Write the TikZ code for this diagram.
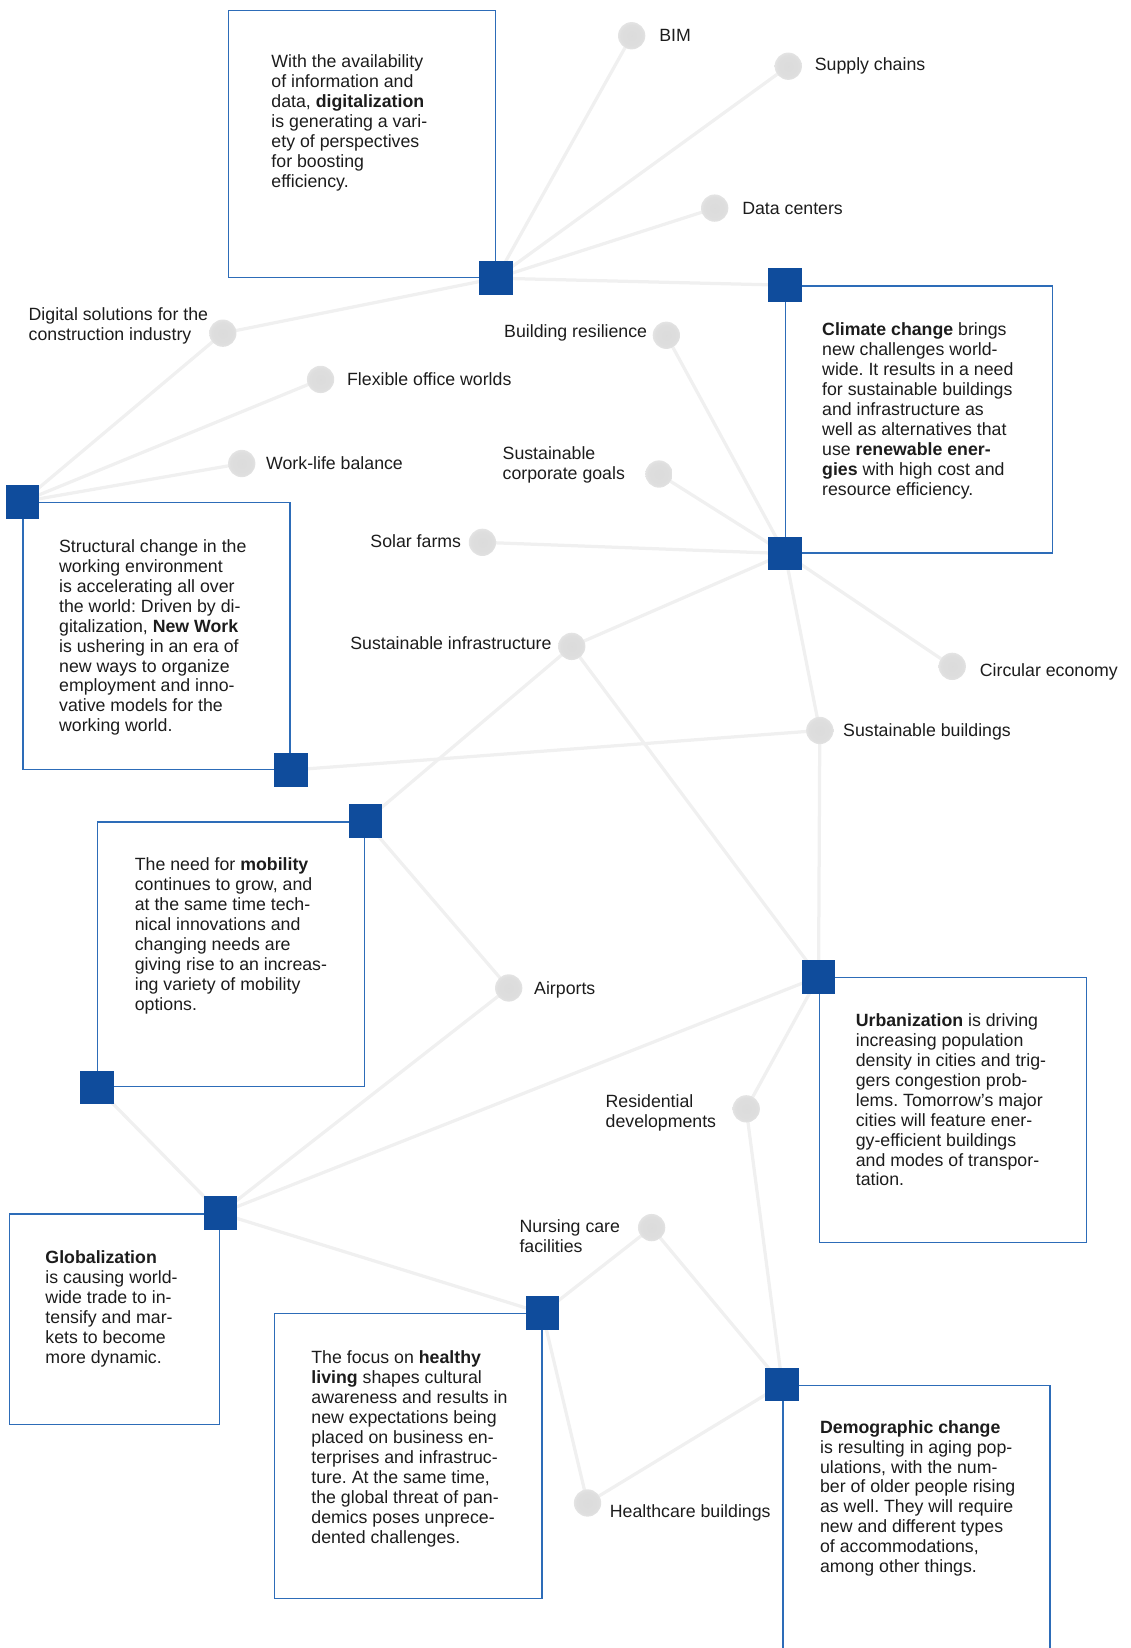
\documentclass[tikz,border=0pt]{standalone}
\usepackage{fontspec}
\setmainfont{Liberation Sans}
\usepackage{xcolor}
\usepackage{tikz}
\usetikzlibrary{positioning,backgrounds}
\frenchspacing

\definecolor{hubblue}{RGB}{15,76,156}
\definecolor{frameblue}{RGB}{45,108,184}
\definecolor{linkgray}{RGB}{240,240,240}
\definecolor{inkgray}{RGB}{28,28,28}

% soft grey topic dots
\pgfdeclareradialshading{softdot}{\pgfpoint{0bp}{0bp}}{color(0bp)=(black!14); color(20bp)=(black!13); color(50bp)=(white)}

\tikzset{
  hub/.style={rectangle, fill=hubblue, minimum size=0.8cm, inner sep=0pt},
  trendbox/.style={rectangle, draw=frameblue, line width=0.9pt, minimum width=6.35cm, minimum height=6.35cm, inner sep=0pt},
  blurb/.style={anchor=north west, align=left, inner sep=0pt, text=inkgray, font=\fontsize{12pt}{13.5pt}\selectfont},
  topic/.style={circle, minimum size=0.65cm, inner sep=0pt, shading=softdot},
  topiclabel/.style={inner sep=0pt, align=left, text=inkgray, font=\fontsize{12pt}{13.5pt}\selectfont},
  link/.style={line width=2.2pt, draw=linkgray}
}

\begin{document}
\begin{tikzpicture}[x=0.025cm, y=-0.025cm]
    \useasboundingbox (0,0) rectangle (1076,1568);

    % Digitalization
    \node[trendbox] (digbox) at (344.5,137) {};
    \node[hub] (digsq) at (digbox.south east) {};
    \node[blurb] (digtxt) at (258,52) {With the availability\\of information and\\data, \textbf{digitalization}\\is generating a vari-\\ety of perspectives\\for boosting\\efficiency.};

    % Climate change
    \node[trendbox] (climbox) at (874.5,399) {};
    \node[hub] (climtop) at (climbox.north west) {};
    \node[hub] (climbot) at (climbox.south west) {};
    \node[blurb] (climtxt) at (782,307) {\textbf{Climate change} brings\\new challenges world-\\wide. It results in a need\\for sustainable buildings\\and infrastructure as\\well as alternatives that\\use \textbf{renewable ener-}\\\textbf{gies} with high cost and\\resource efficiency.};

    % New Work
    \node[trendbox] (workbox) at (149,605) {};
    \node[hub] (worktop) at (workbox.north west) {};
    \node[hub] (workbot) at (workbox.south east) {};
    \node[blurb] (worktxt) at (56,513) {Structural change in the\\working environment\\is accelerating all over\\the world: Driven by di-\\gitalization, \textbf{New Work}\\is ushering in an era of\\new ways to organize\\employment and inno-\\vative models for the\\working world.};

    % Mobility
    \node[trendbox, minimum height=6.3cm] (mobbox) at (220,908) {};
    \node[hub] (mobtop) at (mobbox.north east) {};
    \node[hub] (mobbot) at (mobbox.south west) {};
    \node[blurb] (mobtxt) at (128,816) {The need for \textbf{mobility}\\continues to grow, and\\at the same time tech-\\nical innovations and\\changing needs are\\giving rise to an increas-\\ing variety of mobility\\options.};

    % Urbanization
    \node[trendbox, minimum height=6.3cm] (urbbox) at (906.5,1056) {};
    \node[hub] (urbsq) at (urbbox.north west) {};
    \node[blurb] (urbtxt) at (814,964) {\textbf{Urbanization} is driving\\increasing population\\density in cities and trig-\\gers congestion prob-\\lems. Tomorrow’s major\\cities will feature ener-\\gy-efficient buildings\\and modes of transpor-\\tation.};

    % Globalization
    \node[trendbox, minimum width=5cm, minimum height=5cm] (globbox) at (109,1255) {};
    \node[hub] (globsq) at (globbox.north east) {};
    \node[blurb] (globtxt) at (43,1190) {\textbf{Globalization}\\is causing world-\\wide trade to in-\\tensify and mar-\\kets to become\\more dynamic.};

    % Healthy living
    \node[trendbox, minimum height=6.775cm] (healthbox) at (388.5,1385.5) {};
    \node[hub] (healthsq) at (healthbox.north east) {};
    \node[blurb] (healthtxt) at (296,1285) {The focus on \textbf{healthy}\\\textbf{living} shapes cultural\\awareness and results in\\new expectations being\\placed on business en-\\terprises and infrastruc-\\ture. At the same time,\\the global threat of pan-\\demics poses unprece-\\dented challenges.};

    % Demographic change
    \node[trendbox, minimum height=6.8cm] (dembox) at (872,1454) {};
    \node[hub] (demsq) at (dembox.north west) {};
    \node[blurb] (demtxt) at (780,1351) {\textbf{Demographic change}\\is resulting in aging pop-\\ulations, with the num-\\ber of older people rising\\as well. They will require\\new and different types\\of accommodations,\\among other things.};

    % Topics
    \node[topic] (bim) at (601,34) {};
    \node[topiclabel, anchor=west] (bimlbl) at (627,34) {BIM};
    \node[topic] (supply) at (750,63) {};
    \node[topiclabel, anchor=west] (supplylbl) at (775,63) {Supply chains};
    \node[topic] (datac) at (680,198) {};
    \node[topiclabel, anchor=west] (dataclbl) at (706,198) {Data centers};
    \node[topic] (digsol) at (212,317) {};
    \node[topiclabel, anchor=north west] (digsollbl) at (27,292) {Digital solutions for the\\construction industry};
    \node[topic] (resil) at (634,319) {};
    \node[topiclabel, anchor=east] (resillbl) at (616,317) {Building resilience};
    \node[topic] (flexoff) at (305,361) {};
    \node[topiclabel, anchor=west] (flexofflbl) at (330,361) {Flexible office worlds};
    \node[topic] (worklife) at (230,441) {};
    \node[topiclabel, anchor=west] (worklifelbl) at (253,441) {Work-life balance};
    \node[topic] (corpgoals) at (627,451) {};
    \node[topiclabel, anchor=north west] (corpgoalslbl) at (478,425) {Sustainable\\corporate goals};
    \node[topic] (solar) at (459,516) {};
    \node[topiclabel, anchor=east] (solarlbl) at (439,515) {Solar farms};
    \node[topic] (susinfra) at (544,615) {};
    \node[topiclabel, anchor=east] (susinfralbl) at (525,612) {Sustainable infrastructure};
    \node[topic] (circular) at (906,634) {};
    \node[topiclabel, anchor=west] (circularlbl) at (932,639) {Circular economy};
    \node[topic] (susbuild) at (780,695) {};
    \node[topiclabel, anchor=west] (susbuildlbl) at (802,696) {Sustainable buildings};
    \node[topic] (airports) at (484,940) {};
    \node[topiclabel, anchor=west] (airportslbl) at (508,942) {Airports};
    \node[topic] (resid) at (710,1055) {};
    \node[topiclabel, anchor=north west] (residlbl) at (576,1041) {Residential\\developments};
    \node[topic] (nursing) at (620,1168) {};
    \node[topiclabel, anchor=north west] (nursinglbl) at (494,1160) {Nursing care\\facilities};
    \node[topic] (healthc) at (559,1430) {};
    \node[topiclabel, anchor=west] (healthclbl) at (580,1439) {Healthcare buildings};

    % Links
    \begin{scope}[on background layer]
        \draw[link] (digsq.center) -- (bim.center);
        \draw[link] (digsq.center) -- (supply.center);
        \draw[link] (digsq.center) -- (datac.center);
        \draw[link] (digsq.center) -- (climtop.center);
        \draw[link] (digsq.center) -- (digsol.center);
        \draw[link] (digsol.center) -- (worktop.center);
        \draw[link] (flexoff.center) -- (worktop.center);
        \draw[link] (worklife.center) -- (worktop.center);
        \draw[link] (resil.center) -- (climbot.center);
        \draw[link] (corpgoals.center) -- (climbot.center);
        \draw[link] (solar.center) -- (climbot.center);
        \draw[link] (susinfra.center) -- (climbot.center);
        \draw[link] (circular.center) -- (climbot.center);
        \draw[link] (climbot.center) -- (susbuild.center);
        \draw[link] (susbuild.center) -- (urbsq.center);
        \draw[link] (workbot.center) -- (susbuild.center);
        \draw[link] (susinfra.center) -- (urbsq.center);
        \draw[link] (susinfra.center) -- (mobtop.center);
        \draw[link] (mobtop.center) -- (airports.center);
        \draw[link] (globsq.center) -- (urbsq.center);
        \draw[link] (globsq.center) -- (mobbot.center);
        \draw[link] (globsq.center) -- (airports.center);
        \draw[link] (globsq.center) -- (healthsq.center);
        \draw[link] (healthsq.center) -- (nursing.center);
        \draw[link] (healthsq.center) -- (healthc.center);
        \draw[link] (nursing.center) -- (demsq.center);
        \draw[link] (urbsq.center) -- (resid.center);
        \draw[link] (resid.center) -- (demsq.center);
        \draw[link] (healthc.center) -- (demsq.center);
    \end{scope}
\end{tikzpicture}
\end{document}
